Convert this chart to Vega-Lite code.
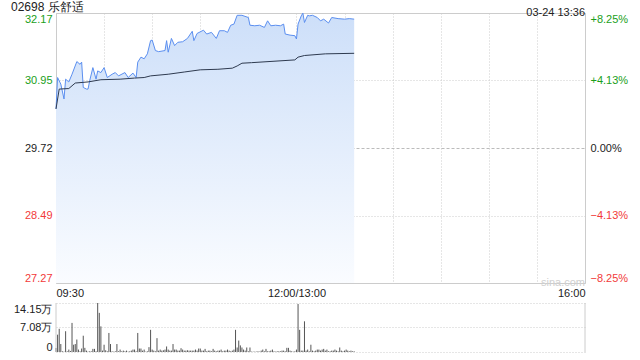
{
  "$schema": "https://vega.github.io/schema/vega-lite/v6.json",
  "padding": {"left": 10, "top": 0, "right": 0, "bottom": 0},
  "autosize": {"type": "pad"},
  "background": "white",
  "spacing": 3,
  "config": {
    "font": "Liberation Sans",
    "view": {"stroke": "#cccccc"},
    "axis": {"labelFont": "Liberation Sans", "labelFontSize": 11, "ticks": false, "domain": false, "gridColor": "#cccccc", "gridDash": [1, 2], "labelColor": "#222222", "zindex": 1, "title": null}
  },
  "datasets": {
    "price": [
      {"m":0,"p":30.43},{"m":1,"p":31.00},{"m":3,"p":30.88},{"m":5,"p":30.61},{"m":6,"p":30.97},{"m":8,"p":30.92},{"m":10,"p":31.06},{"m":13,"p":31.29},{"m":15,"p":31.24},{"m":16,"p":31.28},{"m":17,"p":30.82},{"m":19,"p":30.79},{"m":20,"p":30.79},{"m":21,"p":30.94},{"m":23,"p":31.18},{"m":25,"p":30.97},{"m":26,"p":31.12},{"m":28,"p":31.09},{"m":30,"p":31.18},{"m":32,"p":31.00},{"m":35,"p":31.06},{"m":37,"p":31.09},{"m":39,"p":31.03},{"m":43,"p":31.09},{"m":45,"p":31.00},{"m":48,"p":31.08},{"m":50,"p":31.00},{"m":51,"p":31.28},{"m":53,"p":31.37},{"m":55,"p":31.34},{"m":57,"p":31.43},{"m":59,"p":31.67},{"m":60,"p":31.68},{"m":62,"p":31.49},{"m":64,"p":31.47},{"m":68,"p":31.49},{"m":69,"p":31.67},{"m":70,"p":31.46},{"m":72,"p":31.71},{"m":74,"p":31.58},{"m":76,"p":31.64},{"m":79,"p":31.65},{"m":82,"p":31.71},{"m":85,"p":31.84},{"m":86,"p":31.67},{"m":88,"p":31.80},{"m":92,"p":31.86},{"m":94,"p":31.79},{"m":97,"p":31.82},{"m":100,"p":31.71},{"m":102,"p":31.85},{"m":105,"p":31.85},{"m":107,"p":31.82},{"m":109,"p":31.95},{"m":111,"p":31.97},{"m":113,"p":32.13},{"m":116,"p":32.13},{"m":120,"p":32.09},{"m":121,"p":31.95},{"m":124,"p":31.94},{"m":127,"p":31.95},{"m":130,"p":31.91},{"m":132,"p":32.03},{"m":134,"p":31.94},{"m":137,"p":31.95},{"m":140,"p":31.94},{"m":142,"p":31.97},{"m":143,"p":31.79},{"m":146,"p":31.77},{"m":149,"p":31.76},{"m":150,"p":31.70},{"m":151,"p":31.97},{"m":153,"p":32.12},{"m":154,"p":32.17},{"m":155,"p":32.00},{"m":157,"p":32.13},{"m":158,"p":32.12},{"m":160,"p":32.13},{"m":163,"p":32.09},{"m":165,"p":32.03},{"m":167,"p":32.06},{"m":170,"p":31.99},{"m":172,"p":32.09},{"m":176,"p":32.07},{"m":180,"p":32.06},{"m":183,"p":32.07},{"m":186,"p":32.06}
    ],
    "avg": [
      {"m":0,"a":30.43},{"m":2,"a":30.79},{"m":8,"a":30.80},{"m":12,"a":30.90},{"m":20,"a":30.92},{"m":28,"a":30.96},{"m":40,"a":30.97},{"m":49,"a":30.99},{"m":55,"a":31.00},{"m":59,"a":31.03},{"m":70,"a":31.06},{"m":80,"a":31.10},{"m":90,"a":31.14},{"m":101,"a":31.15},{"m":110,"a":31.17},{"m":113,"a":31.21},{"m":116,"a":31.26},{"m":122,"a":31.27},{"m":149,"a":31.32},{"m":151,"a":31.37},{"m":155,"a":31.40},{"m":168,"a":31.43},{"m":186,"a":31.44}
    ],
    "vol": [
      {"m":0,"v":11600},{"m":1,"v":50000},{"m":2,"v":67000},{"m":3,"v":23000},{"m":4,"v":2000},{"m":5,"v":1000},{"m":6,"v":60000},{"m":7,"v":2000},{"m":8,"v":7000},{"m":9,"v":3000},
      {"m":10,"v":84000},{"m":11,"v":21000},{"m":12,"v":23000},{"m":13,"v":36000},{"m":14,"v":7000},{"m":15,"v":2000},{"m":16,"v":10000},{"m":17,"v":47000},{"m":18,"v":12000},{"m":19,"v":4000},
      {"m":20,"v":1000},{"m":21,"v":2000},{"m":22,"v":2000},{"m":23,"v":9000},{"m":24,"v":9000},{"m":25,"v":2000},{"m":26,"v":141500},{"m":27,"v":113000},{"m":28,"v":74000},{"m":29,"v":4000},
      {"m":30,"v":21000},{"m":31,"v":5000},{"m":32,"v":2000},{"m":33,"v":55000},{"m":34,"v":23000},{"m":35,"v":2000},{"m":36,"v":1000},{"m":37,"v":2000},{"m":38,"v":23000},{"m":39,"v":2000},
      {"m":40,"v":7000},{"m":41,"v":2000},{"m":42,"v":4000},{"m":43,"v":2000},{"m":44,"v":4000},{"m":45,"v":1000},{"m":46,"v":2000},{"m":47,"v":4000},{"m":48,"v":7000},{"m":49,"v":7000},
      {"m":50,"v":2000},{"m":51,"v":55000},{"m":52,"v":10000},{"m":53,"v":10000},{"m":54,"v":4000},{"m":55,"v":7000},{"m":56,"v":1000},{"m":57,"v":2000},{"m":58,"v":14000},{"m":59,"v":64000},
      {"m":60,"v":7000},{"m":61,"v":4000},{"m":62,"v":2000},{"m":63,"v":40000},{"m":64,"v":4000},{"m":65,"v":7000},{"m":66,"v":4000},{"m":67,"v":5000},{"m":68,"v":7000},{"m":69,"v":16000},
      {"m":70,"v":7000},{"m":71,"v":4000},{"m":72,"v":4000},{"m":73,"v":23000},{"m":74,"v":7000},{"m":75,"v":7000},{"m":76,"v":4000},{"m":77,"v":4000},{"m":78,"v":11000},{"m":79,"v":7000},
      {"m":80,"v":4000},{"m":81,"v":4000},{"m":82,"v":5000},{"m":83,"v":4000},{"m":84,"v":4000},{"m":85,"v":4000},{"m":86,"v":4000},{"m":87,"v":7000},{"m":88,"v":4000},{"m":89,"v":10000},
      {"m":90,"v":10000},{"m":91,"v":4000},{"m":92,"v":4000},{"m":93,"v":9000},{"m":94,"v":2000},{"m":95,"v":4000},{"m":96,"v":4000},{"m":97,"v":2000},{"m":98,"v":9000},{"m":99,"v":4000},
      {"m":100,"v":2000},{"m":101,"v":4000},{"m":102,"v":4000},{"m":103,"v":7000},{"m":104,"v":2000},{"m":105,"v":4000},{"m":106,"v":4000},{"m":107,"v":7000},{"m":108,"v":4000},{"m":109,"v":2000},
      {"m":110,"v":4000},{"m":111,"v":7000},{"m":112,"v":64000},{"m":113,"v":13000},{"m":114,"v":33000},{"m":115,"v":19000},{"m":116,"v":13000},{"m":117,"v":7000},{"m":118,"v":4000},{"m":119,"v":13000},
      {"m":120,"v":2000},{"m":121,"v":13000},{"m":122,"v":1000},{"m":123,"v":1000},{"m":124,"v":1000},{"m":125,"v":1000},{"m":126,"v":2000},{"m":127,"v":1000},{"m":128,"v":4000},{"m":129,"v":7000},
      {"m":130,"v":2000},{"m":131,"v":9000},{"m":132,"v":2000},{"m":133,"v":2000},{"m":134,"v":4000},{"m":135,"v":7000},{"m":136,"v":2000},{"m":137,"v":1000},{"m":138,"v":2000},{"m":139,"v":2000},
      {"m":140,"v":2000},{"m":141,"v":4000},{"m":142,"v":4000},{"m":143,"v":2000},{"m":144,"v":12000},{"m":145,"v":12000},{"m":146,"v":4000},{"m":147,"v":2000},{"m":148,"v":1000},{"m":149,"v":2000},
      {"m":150,"v":7000},{"m":151,"v":138700},{"m":152,"v":64000},{"m":153,"v":4000},{"m":154,"v":4000},{"m":155,"v":88600},{"m":156,"v":4000},{"m":157,"v":7000},{"m":158,"v":2000},{"m":159,"v":21000},
      {"m":160,"v":4000},{"m":161,"v":2000},{"m":162,"v":4000},{"m":163,"v":7000},{"m":164,"v":7000},{"m":165,"v":4000},{"m":166,"v":7000},{"m":167,"v":9000},{"m":168,"v":4000},{"m":169,"v":7000},
      {"m":170,"v":2000},{"m":171,"v":2000},{"m":172,"v":4000},{"m":173,"v":4000},{"m":174,"v":7000},{"m":175,"v":4000},{"m":176,"v":2000},{"m":177,"v":13000},{"m":178,"v":4000},{"m":179,"v":2000},
      {"m":180,"v":4000},{"m":181,"v":7000},{"m":182,"v":4000},{"m":183,"v":2000},{"m":184,"v":4000},{"m":185,"v":2000},{"m":186,"v":2000}
    ],
    "edges": [{"m": 0}, {"m": 330}],
    "notes": [{"t": "sina.com", "m": 330, "p": 27.268, "kind": "mark"}, {"t": "03-24 13:36", "m": 330, "p": 32.172, "kind": "time"}]
  },
  "vconcat": [
    {
      "width": 529,
      "height": 270,
      "title": {"text": "02698 乐舒适", "anchor": "start", "fontSize": 12, "fontWeight": "normal", "color": "#222222", "offset": -7, "font": "Liberation Sans"},
      "layer": [
        {
          "data": {"name": "price"},
          "mark": {"type": "area", "color": {"gradient": "linear", "x1": 0, "y1": 0, "x2": 0, "y2": 1, "stops": [{"offset": 0, "color": "#cddff9"}, {"offset": 1, "color": "#fafcff"}]}},
          "encoding": {
            "x": {"field": "m", "type": "quantitative", "scale": {"domain": [0, 330], "nice": false, "zero": false},
              "axis": {"values": [0, 30, 60, 90, 120, 150, 180, 210, 240, 270, 300, 330], "labelExpr": "datum.value == 0 ? '09:30' : datum.value == 150 ? '12:00/13:00' : datum.value == 330 ? '16:00' : ''", "labelFlush": true, "labelOverlap": false, "labelPadding": 4, "grid": true}},
            "y": {"field": "p", "type": "quantitative", "scale": {"domain": [27.268, 32.172], "zero": false, "nice": false},
              "axis": {"orient": "left", "values": [27.268, 28.494, 29.72, 30.946, 32.172], "format": ".2f", "labelFlush": true, "labelPadding": 4, "minExtent": 45, "maxExtent": 45, "grid": true,
                "gridDash": {"condition": {"test": "abs(datum.value - 29.72) < 0.001", "value": [3, 2]}, "value": [1, 2]},
                "gridColor": {"condition": {"test": "abs(datum.value - 29.72) < 0.001", "value": "#bbbbbb"}, "value": "#cccccc"},
                "labelColor": {"condition": [{"test": "datum.value > 29.73", "value": "#1aa01a"}, {"test": "datum.value < 29.71", "value": "#f23a3a"}], "value": "#222222"}}},
            "y2": {"datum": 27.268}
          }
        },
        {
          "data": {"name": "price"},
          "mark": {"type": "line", "color": "#5b8ff0", "strokeWidth": 1},
          "encoding": {
            "x": {"field": "m", "type": "quantitative", "axis": null},
            "y": {"field": "p", "type": "quantitative", "axis": null}
          }
        },
        {
          "data": {"name": "notes"},
          "mark": {"type": "text", "align": "right", "fontSize": 11, "clip": false},
          "encoding": {
            "text": {"field": "t"},
            "x": {"field": "m", "type": "quantitative", "axis": null},
            "y": {"field": "p", "type": "quantitative", "axis": null},
            "color": {"field": "kind", "type": "nominal", "scale": {"domain": ["mark", "time"], "range": ["#d0d0d0", "#222222"]}, "legend": null},
            "baseline": {"value": "bottom"},
            "dx": {"condition": {"test": "datum.kind == 'mark'", "value": -11}, "value": 0},
            "dy": {"condition": {"test": "datum.kind == 'mark'", "value": -2}, "value": -8}
          }
        },
        {
          "data": {"name": "avg"},
          "mark": {"type": "line", "color": "#2e3a4f", "strokeWidth": 1},
          "encoding": {
            "x": {"field": "m", "type": "quantitative", "axis": null},
            "y": {"field": "a", "type": "quantitative",
              "axis": {"orient": "right", "values": [27.268, 28.494, 29.72, 30.946, 32.172], "labelExpr": "abs(datum.value - 29.72) < 0.001 ? '0.00%' : format((datum.value / 29.72 - 1) * 100, '+.2f') + '%'", "labelFlush": true, "labelPadding": 5, "grid": false,
                "labelColor": {"condition": [{"test": "datum.value > 29.73", "value": "#1aa01a"}, {"test": "datum.value < 29.71", "value": "#f23a3a"}], "value": "#222222"}}}
          }
        }
      ],
      "resolve": {"axis": {"x": "independent", "y": "independent"}}
    },
    {
      "width": 529,
      "height": 49,
      "view": {"stroke": null},
      "layer": [
        {
          "data": {"name": "vol"},
          "mark": {"type": "rule", "color": "#555555", "strokeWidth": 1},
          "encoding": {
            "x": {"field": "m", "type": "quantitative", "scale": {"domain": [0, 330], "nice": false, "zero": false}, "axis": null},
            "y": {"field": "v", "type": "quantitative", "scale": {"domain": [0, 141500], "nice": false},
              "axis": {"values": [0, 70760, 141500], "labelExpr": "datum.value == 0 ? '0' : format(datum.value / 10000, '.2f') + '万'", "labelFlush": true, "labelPadding": 4, "minExtent": 45, "maxExtent": 45, "grid": true}},
            "y2": {"datum": 0}
          }
        },
        {
          "data": {"name": "edges"},
          "mark": {"type": "rule", "color": "#cccccc", "strokeWidth": 1},
          "encoding": {
            "x": {"field": "m", "type": "quantitative"}
          }
        }
      ]
    }
  ]
}
